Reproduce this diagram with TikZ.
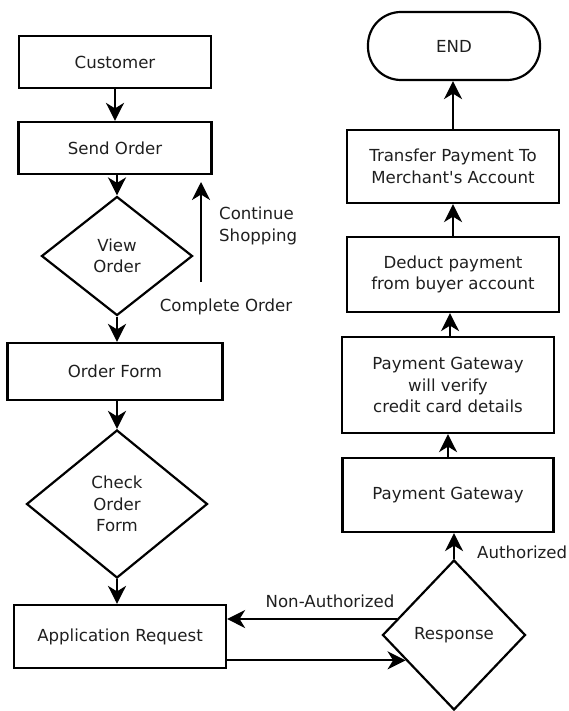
\documentclass[tikz,border=0pt]{standalone}
\usepackage{fontspec}
\newfontfamily\dejavu{DejaVu Sans}
\usetikzlibrary{shapes.geometric,arrows.meta,calc}
\begin{document}
\begin{tikzpicture}[x=1pt,y=-1pt,
  every node/.style={font=\dejavu\fontsize{16.6}{21.5}\selectfont, text=black!88},
  box/.style={draw=black, line width=2.2pt, rectangle, align=center, inner sep=0pt},
  dia/.style={draw=black, line width=2.2pt, diamond, align=center, inner sep=0pt},
  term/.style={draw=black, line width=2.2pt, rectangle, rounded corners=33pt, align=center, inner sep=0pt},
  flow/.style={line width=2.2pt, -{Stealth[length=18pt,width=18pt,inset=5.5pt]}},
  lbl/.style={inner sep=0pt}]
\useasboundingbox (0,0) rectangle (568,711);
% left column
\node[box, minimum width=192pt, minimum height=52pt] (cust) at (115,62) {Customer};
\node[box, minimum width=193pt, minimum height=52pt] (send) at (115,148) {Send Order};
\node[dia, minimum width=151pt, minimum height=119pt] (view) at (117,256) {View\\Order};
\node[box, minimum width=215pt, minimum height=57pt] (form) at (115,371.5) {Order Form};
\node[dia, minimum width=181pt, minimum height=148pt] (check) at (117,504) {Check\\Order\\Form};
\node[box, minimum width=212pt, minimum height=63pt] (app) at (120,636.5) {Application Request};
% right column
\node[dia, minimum width=143pt, minimum height=150pt] (resp) at (454,635) {Response};
\node[box, minimum width=211pt, minimum height=74pt] (pg) at (448,495) {Payment Gateway};
\node[box, minimum width=212pt, minimum height=96pt] (ver) at (448,385) {Payment Gateway\\will verify\\credit card details};
\node[box, minimum width=212pt, minimum height=75pt] (ded) at (453,274.5) {Deduct payment\\from buyer account};
\node[box, minimum width=212pt, minimum height=73pt] (tra) at (453,166.5) {Transfer Payment To\\Merchant's Account};
\node[term, minimum width=172pt, minimum height=68pt] (end) at (454,46) {END};
% connectors
\draw[flow] (cust.south) -- (send.north);
\draw[flow] (send.south -| view.north) -- (view.north);
\draw[flow] (view.south) -- (view.south |- form.north);
\draw[flow] (form.south -| check.north) -- (check.north);
\draw[flow] (check.south) -- (check.south |- app.north);
\coordinate (cs1) at (201,282);
\coordinate (cs2) at (201,182);
\draw[flow] (cs1) -- (cs2);
\node[lbl, anchor=west, align=left] (contlbl) at (219,226) {Continue\\Shopping};
\node[lbl] (complbl) at (226,307) {Complete Order};
\coordinate (na) at ($(resp.west)!0.21!(resp.north)$);
\draw[flow] (na) -- (app.east |- na);
\node[lbl] (nalbl) at (330,601) {Non-Authorized};
\coordinate (ap) at ($(resp.west)!0.333!(resp.south)$);
\draw[flow] (app.east |- ap) -- (ap);
\draw[flow] (resp.north) -- (resp.north |- pg.south);
\node[lbl, anchor=west] (aulbl) at (477,552) {Authorized};
\draw[flow] (pg.north) -- (ver.south);
\draw[flow] (ver.north -| 450,0) -- (450,0 |- ded.south);
\draw[flow] (ded.north) -- (tra.south);
\draw[flow] (tra.north) -- (tra.north |- end.south);
\end{tikzpicture}
\end{document}
